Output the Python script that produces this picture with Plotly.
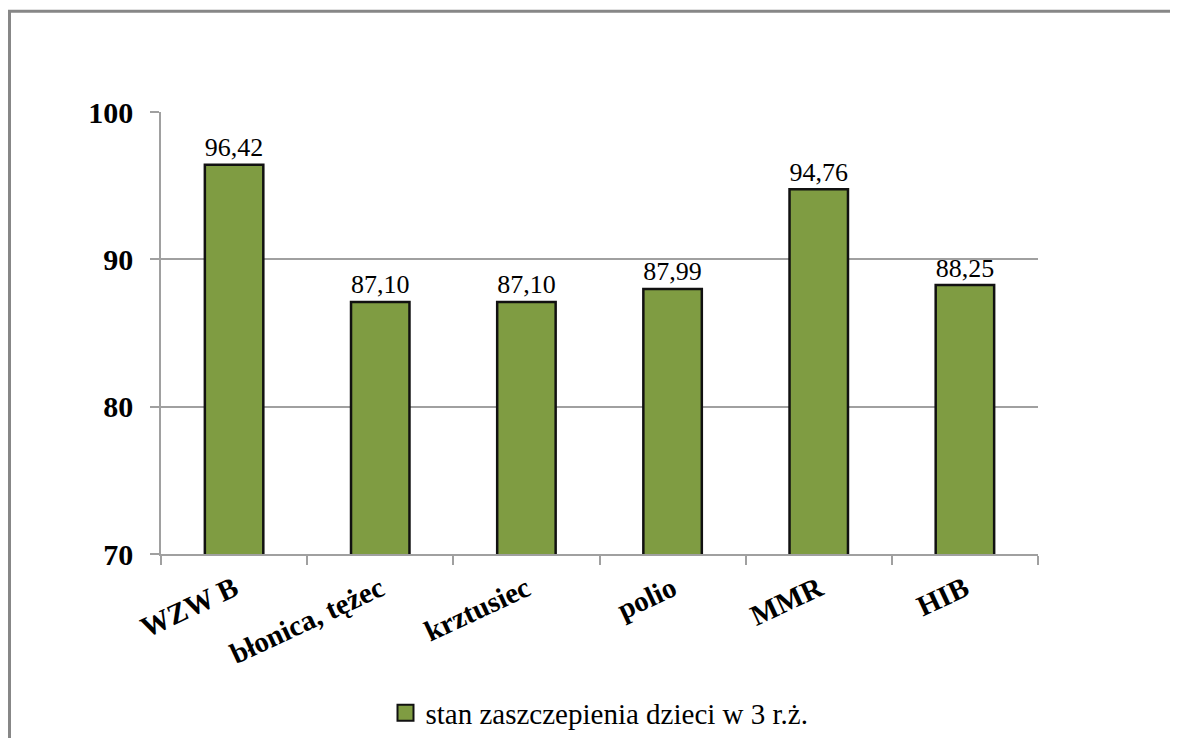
import plotly.graph_objects as go

categories = ["WZW B", "błonica, tężec", "krztusiec", "polio", "MMR", "HIB"]
values = [96.42, 87.10, 87.10, 87.99, 94.76, 88.25]
series_name = "stan zaszczepienia dzieci w 3 r.ż."
y_ticks = [70, 80, 90, 100]

labels = [f"{v:.2f}".replace(".", ",") for v in values]

# page has an 8px body margin, so figure coords = page coords - 8
W, H = 1170, 730
L, R, T, B = 153, 140, 104, 184
pw, ph = W - L - R, H - T - B

SERIF = "Liberation Serif, Times New Roman, serif"
GREEN = "#7f9c42"

fig = go.Figure()
fig.add_trace(go.Bar(
    x=categories, y=values, name=series_name,
    text=labels, textposition="outside", cliponaxis=False,
    textfont=dict(family=SERIF, size=28, color="black"),
    marker=dict(color=GREEN, line=dict(color="#111111", width=2.5)),
    showlegend=False,
))
# legend entry (square swatch)
fig.add_trace(go.Scatter(
    x=[None], y=[None], mode="markers", name=series_name,
    marker=dict(symbol="square", size=18, color=GREEN, line=dict(color="#111111", width=2)),
    showlegend=True, hoverinfo="skip",
))


def px_x(x):
    return (x - L) / pw


def px_y(y):
    return (H - B - y) / ph


# chart border (left and top edges visible)
fig.add_shape(type="rect", xref="paper", yref="paper",
              x0=px_x(1.5), x1=px_x(1300), y0=px_y(900), y1=px_y(3.3),
              line=dict(color="#878787", width=3), fillcolor="rgba(0,0,0,0)", layer="below")

fig.update_layout(
    width=W, height=H,
    margin=dict(l=L, r=R, t=T, b=B, autoexpand=False),
    paper_bgcolor="white", plot_bgcolor="white",
    bargap=0.6,
    font=dict(family=SERIF, color="black"),
    showlegend=True,
    legend=dict(orientation="h", x=0.5, xanchor="center", y=px_y(705), yanchor="middle",
                font=dict(family=SERIF, size=29, color="black"),
                itemwidth=30, tracegroupgap=0),
    xaxis=dict(
        automargin=False,
        showline=True, linecolor="#a0a0a0", linewidth=1.5,
        ticks="outside", ticklen=9, tickcolor="#a0a0a0", tickwidth=1.5,
        tickson="boundaries", tickangle=-25,
        tickfont=dict(family=SERIF, size=29, color="black", weight="bold"),
        ticklabelstandoff=5,
        showgrid=False,
    ),
    yaxis=dict(
        automargin=False,
        range=[70, 100], tickvals=y_ticks,
        showline=True, linecolor="#a0a0a0", linewidth=1.5,
        ticks="outside", ticklen=9, tickcolor="#a0a0a0", tickwidth=1.5,
        showgrid=True, gridcolor="#a0a0a0", gridwidth=1.5,
        tickfont=dict(family=SERIF, size=30, color="black", weight="bold"),
        ticklabelstandoff=11,
        zeroline=False,
    ),
)

fig.write_html("out.html")
